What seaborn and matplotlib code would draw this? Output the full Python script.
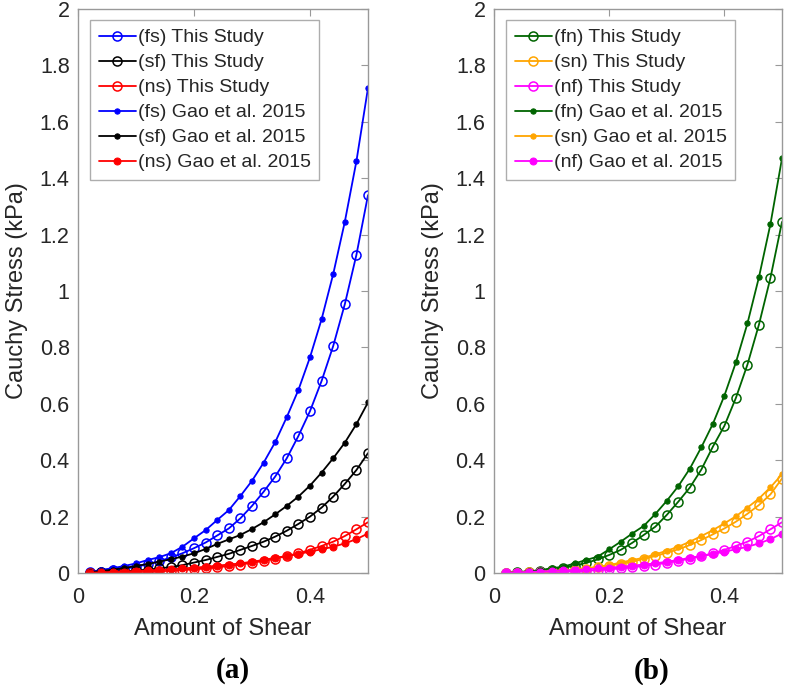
import numpy as np
import pandas as pd
import matplotlib
matplotlib.use("Agg")
import matplotlib.pyplot as plt
import seaborn as sns

shear = [0.02, 0.04, 0.06, 0.08, 0.10, 0.12, 0.14, 0.16, 0.18, 0.20, 0.22, 0.24, 0.26,
         0.28, 0.30, 0.32, 0.34, 0.36, 0.38, 0.40, 0.42, 0.44, 0.46, 0.48, 0.50]

# Panel (a)
fs_this = [0.002, 0.005, 0.009, 0.015, 0.022, 0.031, 0.042, 0.055, 0.070, 0.088, 0.108, 0.133, 0.158,
           0.194, 0.238, 0.288, 0.342, 0.407, 0.486, 0.574, 0.681, 0.805, 0.953, 1.128, 1.340]
sf_this = [0.001, 0.002, 0.004, 0.006, 0.009, 0.012, 0.016, 0.021, 0.028, 0.037, 0.046, 0.057, 0.068,
           0.082, 0.096, 0.111, 0.129, 0.150, 0.174, 0.200, 0.232, 0.271, 0.316, 0.365, 0.425]
ns_this = [0.000, 0.001, 0.001, 0.002, 0.003, 0.004, 0.006, 0.008, 0.010, 0.013, 0.016, 0.020, 0.025,
           0.030, 0.036, 0.043, 0.051, 0.060, 0.070, 0.082, 0.096, 0.111, 0.131, 0.155, 0.180]
fs_gao = [0.003, 0.011, 0.017, 0.025, 0.034, 0.046, 0.056, 0.070, 0.093, 0.123, 0.152, 0.188, 0.223,
          0.273, 0.327, 0.391, 0.464, 0.553, 0.649, 0.765, 0.900, 1.060, 1.245, 1.460, 1.720]
sf_gao = [0.003, 0.007, 0.012, 0.018, 0.025, 0.032, 0.040, 0.049, 0.058, 0.070, 0.085, 0.103, 0.119,
          0.135, 0.156, 0.180, 0.208, 0.238, 0.271, 0.310, 0.356, 0.407, 0.462, 0.528, 0.605]
ns_gao = [0.001, 0.002, 0.004, 0.005, 0.007, 0.009, 0.011, 0.013, 0.016, 0.019, 0.022, 0.026, 0.030,
          0.034, 0.040, 0.046, 0.054, 0.060, 0.067, 0.076, 0.084, 0.093, 0.105, 0.120, 0.140]

# Panel (b)
fn_this = [0.001, 0.003, 0.005, 0.008, 0.012, 0.018, 0.026, 0.036, 0.048, 0.064, 0.082, 0.107, 0.135,
           0.164, 0.206, 0.253, 0.303, 0.367, 0.448, 0.522, 0.621, 0.739, 0.881, 1.047, 1.245]
sn_this = [0.001, 0.001, 0.002, 0.004, 0.006, 0.008, 0.011, 0.015, 0.020, 0.026, 0.033, 0.040, 0.050,
           0.060, 0.072, 0.084, 0.099, 0.117, 0.137, 0.158, 0.182, 0.210, 0.241, 0.279, 0.335]
nf_this = [0.000, 0.001, 0.001, 0.002, 0.003, 0.004, 0.006, 0.008, 0.010, 0.013, 0.016, 0.020, 0.025,
           0.030, 0.036, 0.043, 0.051, 0.060, 0.070, 0.082, 0.096, 0.111, 0.131, 0.155, 0.180]
fn_gao = [0.001, 0.003, 0.006, 0.010, 0.017, 0.022, 0.034, 0.046, 0.058, 0.084, 0.111, 0.140, 0.167,
          0.209, 0.256, 0.308, 0.370, 0.446, 0.529, 0.629, 0.747, 0.885, 1.049, 1.238, 1.470]
sn_gao = [0.001, 0.002, 0.003, 0.004, 0.006, 0.009, 0.013, 0.017, 0.022, 0.028, 0.037, 0.046, 0.054,
          0.066, 0.079, 0.093, 0.111, 0.131, 0.152, 0.176, 0.201, 0.232, 0.264, 0.304, 0.350]
nf_gao = [0.001, 0.002, 0.004, 0.005, 0.007, 0.009, 0.011, 0.013, 0.016, 0.019, 0.022, 0.026, 0.030,
          0.034, 0.040, 0.046, 0.054, 0.060, 0.067, 0.076, 0.084, 0.093, 0.105, 0.120, 0.140]

labels_a = ["(fs) This Study", "(sf) This Study", "(ns) This Study",
            "(fs) Gao et al. 2015", "(sf) Gao et al. 2015", "(ns) Gao et al. 2015"]
labels_b = ["(fn) This Study", "(sn) This Study", "(nf) This Study",
            "(fn) Gao et al. 2015", "(sn) Gao et al. 2015", "(nf) Gao et al. 2015"]
series_a = [fs_this, sf_this, ns_this, fs_gao, sf_gao, ns_gao]
series_b = [fn_this, sn_this, nf_this, fn_gao, sn_gao, nf_gao]
colors_a = ["#0000FF", "#000000", "#FF0000", "#0000FF", "#000000", "#FF0000"]
colors_b = ["#006400", "#FFA500", "#FF00FF", "#006400", "#FFA500", "#FF00FF"]
xticks = [0, 0.2, 0.4]
yticks = [0, 0.2, 0.4, 0.6, 0.8, 1, 1.2, 1.4, 1.6, 1.8, 2]
ytick_labels = ["0", "0.2", "0.4", "0.6", "0.8", "1", "1.2", "1.4", "1.6", "1.8", "2"]
xtick_labels = ["0", "0.2", "0.4"]

sns.set_style("white")
plt.rcParams["font.family"] = ["Liberation Sans", "DejaVu Sans"]

fig = plt.figure(figsize=(7.88, 6.85), dpi=100)
W, H = 788, 685
ax_a = fig.add_axes([78 / W, (H - 573) / H, 290 / W, 564 / H])
ax_b = fig.add_axes([494 / W, (H - 573) / H, 288 / W, 564 / H])

spine_col = "#999999"
text_col = "#262626"

def draw(ax, series, labels, colors, axw):
    for i, (vals, lab, col) in enumerate(zip(series, labels, colors)):
        df = pd.DataFrame({"x": shear, "y": vals})
        if i < 3:
            sns.lineplot(data=df, x="x", y="y", ax=ax, color=col, label=lab,
                         marker="o", markersize=6.5, markerfacecolor="none",
                         markeredgecolor=col, markeredgewidth=1.1, linewidth=1.3)
        else:
            ms = 5.0 if i == 5 else 3.8
            sns.lineplot(data=df, x="x", y="y", ax=ax, color=col, label=lab,
                         marker="o", markersize=ms, markerfacecolor=col,
                         markeredgecolor=col, linewidth=1.3)
    ax.set_xlim(0, 0.5)
    ax.set_ylim(0, 2)
    ax.set_xticks(xticks)
    ax.set_xticklabels(xtick_labels)
    ax.set_yticks(yticks)
    ax.set_yticklabels(ytick_labels)
    ax.tick_params(direction="in", top=True, right=True, length=5, width=0.8,
                   colors=spine_col, labelcolor=text_col, labelsize=15.5)
    ax.tick_params(axis="x", pad=10)
    ax.tick_params(axis="y", pad=6)
    for s in ax.spines.values():
        s.set_visible(True)
        s.set_color(spine_col)
        s.set_linewidth(1.0)
    ax.set_xlabel("Amount of Shear", fontsize=17, color=text_col, labelpad=7)
    ax.set_ylabel("Cauchy Stress (kPa)", fontsize=17, color=text_col, labelpad=8)
    leg = ax.legend(loc="upper left", bbox_to_anchor=(12 / axw, 1 - 11 / 564),
                    borderaxespad=0, fontsize=14, frameon=True, fancybox=False,
                    edgecolor=spine_col, handlelength=1.9, handletextpad=0.1,
                    labelspacing=0.38, borderpad=0.45)
    leg.get_frame().set_linewidth(1.0)
    for t in leg.get_texts():
        t.set_color(text_col)

draw(ax_a, series_a, labels_a, colors_a, 290)
draw(ax_b, series_b, labels_b, colors_b, 288)

serif = ["Liberation Serif", "DejaVu Serif"]
fig.text(233 / W, 1 - 671 / H, "(a)", ha="center", va="center", fontsize=21,
         fontweight="bold", family=serif, color="#000000")
fig.text(652 / W, 1 - 671 / H, "(b)", ha="center", va="center", fontsize=21,
         fontweight="bold", family=serif, color="#000000")

fig.savefig("out.png", dpi=100)
